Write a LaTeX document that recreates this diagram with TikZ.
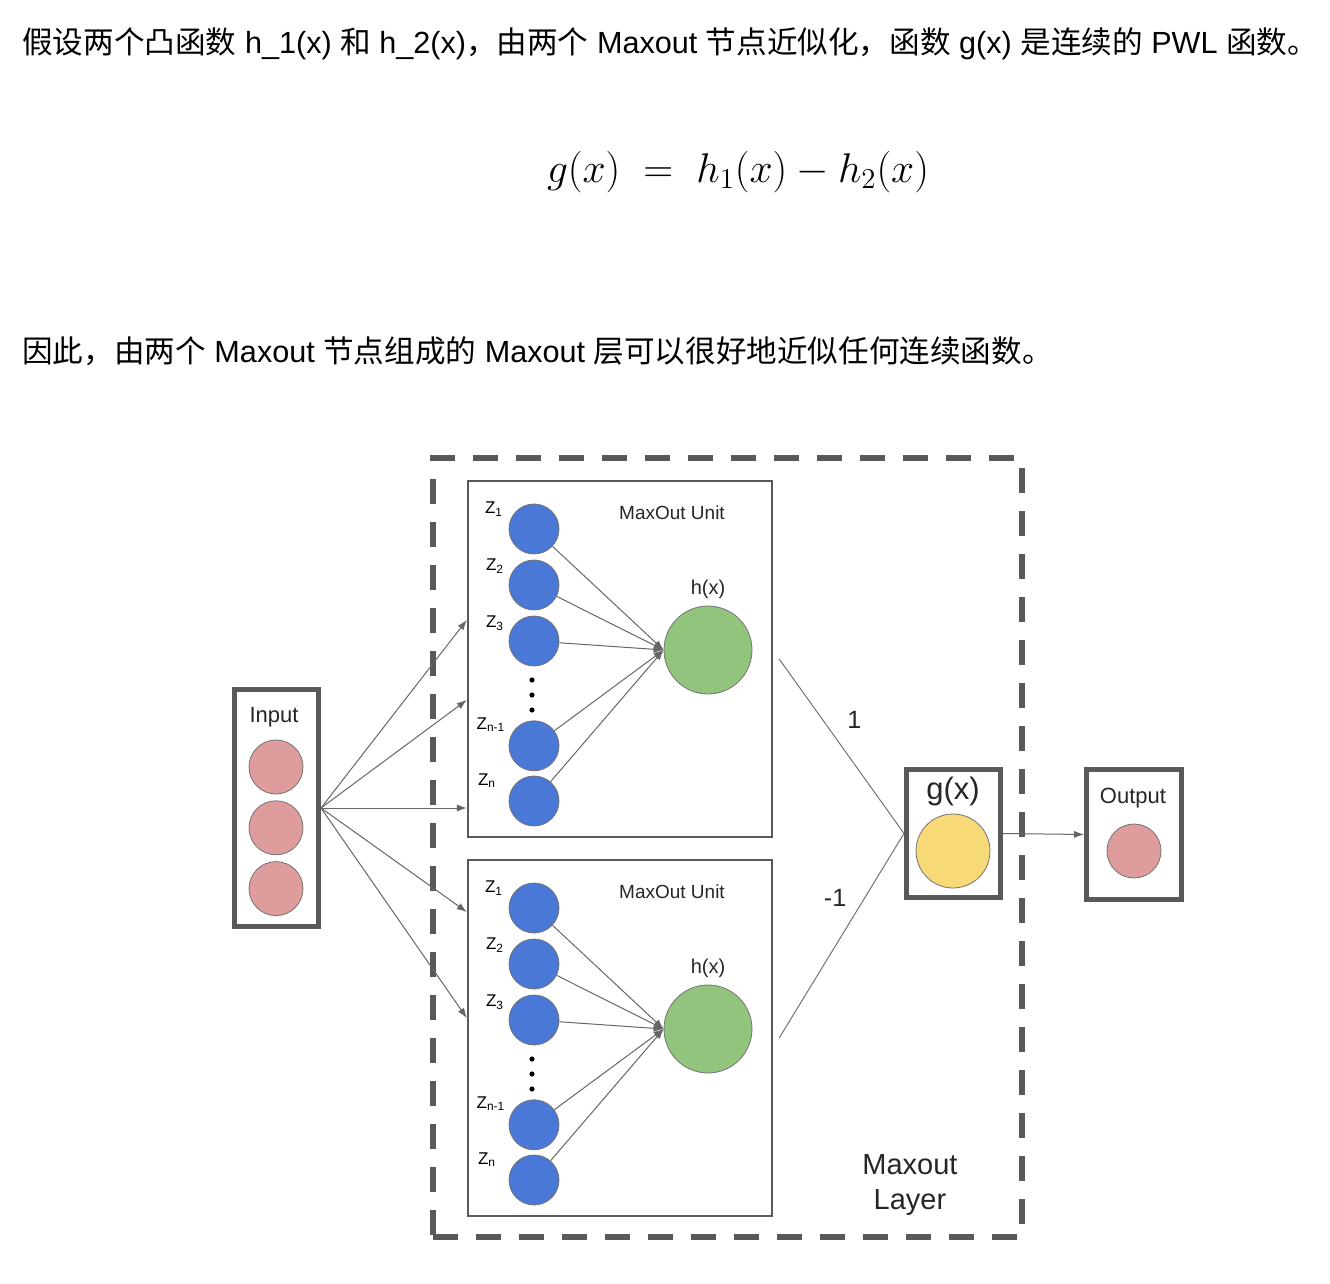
\documentclass[tikz,border=0pt]{standalone}
\usepackage{amsmath}
\usepackage{fontspec}
\setmainfont{Liberation Sans}
\newfontfamily\cjk{Noto Sans CJK SC}
\usepackage{xcolor}
\usetikzlibrary{arrows, arrows.meta, positioning, calc}

\definecolor{zblue}{HTML}{4A78D6}
\definecolor{hgreen}{HTML}{93C47D}
\definecolor{xpink}{HTML}{DF9C9C}
\definecolor{gyellow}{HTML}{F8D978}
\definecolor{boxgray}{HTML}{595959}

\begin{document}
\begin{tikzpicture}[x=0.5pt, y=-0.5pt]
    % Define the style for the nodes
    \tikzstyle{zunit} = [circle, draw=black!55, fill=zblue, minimum size=25pt, inner sep=0pt]
    \tikzstyle{zlabel} = [font=\fontsize{8.5}{10}\selectfont, inner sep=0pt]
    \tikzstyle{hunit} = [circle, draw=black!55, fill=hgreen, minimum size=44pt, inner sep=0pt]
    \tikzstyle{xunit} = [circle, draw=black!55, fill=xpink, minimum size=27pt, inner sep=0pt]
    \tikzstyle{gunit} = [circle, draw=black!55, fill=gyellow, minimum size=37pt, inner sep=0pt]
    \tikzstyle{frame} = [draw=boxgray, line width=2.5pt, inner sep=0pt]
    \tikzstyle{unitbox} = [draw=boxgray, line width=1.2pt, minimum width=152pt, minimum height=178pt, inner sep=0pt]
    \tikzstyle{layerbox} = [draw=boxgray, line width=3pt, dash pattern=on 12.5pt off 9pt, minimum width=294.5pt, minimum height=389.5pt, inner sep=0pt]
    \tikzstyle{line} = [draw=black!60, -{Latex[length=5pt, width=3.6pt]}, line width=0.5pt]
    \tikzstyle{wire} = [draw=black!55, line width=0.5pt]
    \tikzstyle{caption} = [text=black!85, inner sep=0pt]
    \tikzstyle{intro} = [anchor=base west, inner sep=0pt, font=\fontsize{15.3}{18}\selectfont]

    \useasboundingbox (0,0) rectangle (1330,1284);

    % Text above the diagram
    \node[intro] (line1) at (22,54) {{\cjk 假设两个凸函数} h\_1(x) {\cjk 和} h\_2(x){\cjk ，由两个} Maxout {\cjk 节点近似化，函数} g(x) {\cjk 是连续的} PWL {\cjk 函数。}};
    \node[inner sep=0pt, font=\fontsize{21}{25}\selectfont] (formula) at (738,172) {$g(x)\;=\;h_1(x)-h_2(x)$};
    \node[intro] (line2) at (22,363) {{\cjk 因此，由两个} Maxout {\cjk 节点组成的} Maxout {\cjk 层可以很好地近似任何连续函数。}};

    % Place the nodes
    \node[layerbox] (layer) at (727.5,847.5) {};
    \node[caption, font=\fontsize{14.5}{17.5}\selectfont, align=center] (layerlabel) at (910,1185) {Maxout\\Layer};

    \node[frame, minimum width=42pt, minimum height=118.5pt] (inbox) at (276.5,808) {};
    \node[caption, font=\fontsize{11}{13}\selectfont] (inlabel) at (274,717) {Input};
    \node[xunit] (x1) at (276,767) {};
    \node[xunit, below=3pt of x1] (x2) {};
    \node[xunit, below=3pt of x2] (x3) {};

    \foreach \u/\dy in {a/0, b/379} {
        % one MaxOut unit
        \node[unitbox] (box\u) at (620,{659+\dy}) {};
        \node[caption, font=\fontsize{9.5}{11}\selectfont] (title\u) at (672,{513+\dy}) {MaxOut Unit};
        \node[zunit] (z\u1) at (534,{529+\dy}) {};
        \node[zunit, below=2.6pt of z\u1] (z\u2) {};
        \node[zunit, below=2.6pt of z\u2] (z\u3) {};
        \node[zunit, below=27pt of z\u3] (z\u4) {};
        \node[zunit, below=2.2pt of z\u4] (z\u5) {};
        \foreach \k in {0,1,2}
            \fill[black] (532,{680+15*\k+\dy}) circle (1.3pt);
        \node[zlabel] (lz\u1) at ($(z\u1)+(-40,-20)$) {Z\textsubscript{1}};
        \node[zlabel] (lz\u2) at ($(z\u2)+(-39,-19)$) {Z\textsubscript{2}};
        \node[zlabel] (lz\u3) at ($(z\u3)+(-39,-18)$) {Z\textsubscript{3}};
        \node[zlabel] (lz\u4) at ($(z\u4)+(-43,-21)$) {Z\textsubscript{n-1}};
        \node[zlabel] (lz\u5) at ($(z\u5)+(-47,-20)$) {Z\textsubscript{n}};
        \node[hunit] (h\u) at (708,{650+\dy}) {};
        \node[caption, font=\fontsize{10}{12}\selectfont] (hl\u) at (708,{589+\dy}) {h(x)};
        \foreach \k in {1,...,5}
            \path[line] (z\u\k) -- (h\u.west);
    }

    \node[frame, minimum width=47pt, minimum height=64pt] (gbox) at (953.5,833.5) {};
    \node[caption, font=\fontsize{15.5}{18}\selectfont] (glabel) at (953,791) {g(x)};
    \node[gunit] (g) at (953,851) {};

    \node[frame, minimum width=47.5pt, minimum height=65pt] (outbox) at (1134,834.5) {};
    \node[caption, font=\fontsize{11}{13}\selectfont] (outlabel) at (1133,798) {Output};
    \node[xunit] (y) at (1134,851) {};

    % Connect the nodes with paths
    \path[line] (inbox.east) -- ([yshift=19.5pt]boxa.west);
    \path[line] (inbox.east) -- ([yshift=-20.5pt]boxa.west);
    \path[line] (inbox.east) -- ([yshift=-74.5pt]boxa.west);
    \path[line] (inbox.east) -- ([yshift=63pt]boxb.west);
    \path[line] (inbox.east) -- ([yshift=10pt]boxb.west);

    \path[wire] ([xshift=3pt]boxa.east) -- node[pos=0.35, right=12pt, caption, font=\fontsize{12.5}{15}\selectfont] {1} (gbox.west);
    \path[wire] ([xshift=3pt]boxb.east) -- node[pos=0.685, left=9pt, caption, font=\fontsize{12.5}{15}\selectfont] {-1} (gbox.west);
    \path[line] (gbox.east) -- (outbox.west);

\end{tikzpicture}
\end{document}
